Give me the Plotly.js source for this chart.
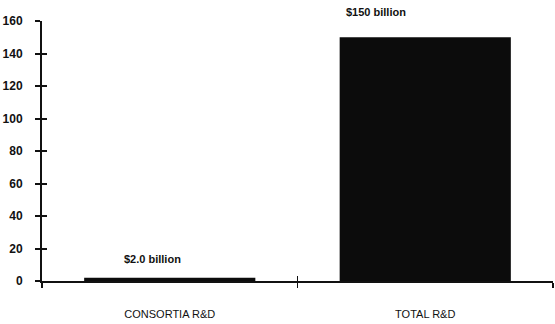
<!DOCTYPE html>
<html><head><meta charset="utf-8">
<script src="https://cdn.plot.ly/plotly-3.0.1.min.js"></script>
<style>html,body{margin:0;padding:0;background:#fff}#chart{width:555px;height:324px}</style>
</head><body><div id="chart"></div>
<script>
const categories = ["CONSORTIA R&D", "TOTAL R&D"];
const values = [2.0, 150];
const valueLabels = ["$2.0 billion", "$150 billion"];
const yTicks = [0, 20, 40, 60, 80, 100, 120, 140, 160];

const font = "Liberation Sans, Arial, Helvetica, sans-serif";

const traces = [
  {type: "bar", x: categories, y: values, width: 0.67,
   marker: {color: "#0c0c0c", line: {width: 0}}, hoverinfo: "skip"},
  {type: "scatter", mode: "markers", x: [0], y: [0], xaxis: "x2", yaxis: "y2",
   marker: {opacity: 0, size: 1}, hoverinfo: "skip", showlegend: false}
];

const labelShifts = [{x: -17, y: 11}, {x: -49, y: 17}];
const annotations = categories.map((c, i) => ({
  x: c, y: values[i], xref: "x", yref: "y", text: "<b>" + valueLabels[i] + "</b>",
  showarrow: false, yanchor: "bottom", xshift: labelShifts[i].x, yshift: labelShifts[i].y,
  font: {family: font, size: 11, color: "#111"}
}));

const layout = {
  width: 555, height: 324,
  margin: {l: 42, r: 2, t: 21, b: 43},
  paper_bgcolor: "#fff", plot_bgcolor: "#fff",
  showlegend: false,
  xaxis: {type: "category", range: [-0.5, 1.5], showgrid: false, zeroline: false,
    showline: true, linecolor: "#111", linewidth: 1.5,
    ticks: "outside", tickson: "boundaries", ticklen: 5, tickwidth: 1.5, tickcolor: "#111",
    ticklabelstandoff: 22,
    tickfont: {family: font, size: 11, color: "#111"}},
  yaxis: {range: [0, 160], tickvals: yTicks, showgrid: false, zeroline: false,
    showline: true, linecolor: "#111", linewidth: 2,
    ticks: "outside", ticklen: 5, tickwidth: 2, tickcolor: "#111",
    ticklabelstandoff: 10,
    tickfont: {family: font, size: 12, color: "#111", weight: "bold"}},
  xaxis2: {overlaying: "x", anchor: "y2", side: "bottom", range: [-0.5, 1.5], tickvals: [-0.5, 0.5, 1.5],
    showgrid: false, zeroline: false, showline: false, showticklabels: false,
    ticks: "inside", ticklen: 5, tickwidth: 1.5, tickcolor: "#111"},
  yaxis2: {overlaying: "y", anchor: "x2", side: "left", range: [0, 160], tickvals: yTicks,
    showgrid: false, zeroline: false, showline: false, showticklabels: false,
    ticks: "inside", ticklen: 5, tickwidth: 2, tickcolor: "#111"},
  annotations: annotations
};

Plotly.newPlot("chart", traces, layout, {staticPlot: true, displayModeBar: false});
</script></body></html>
